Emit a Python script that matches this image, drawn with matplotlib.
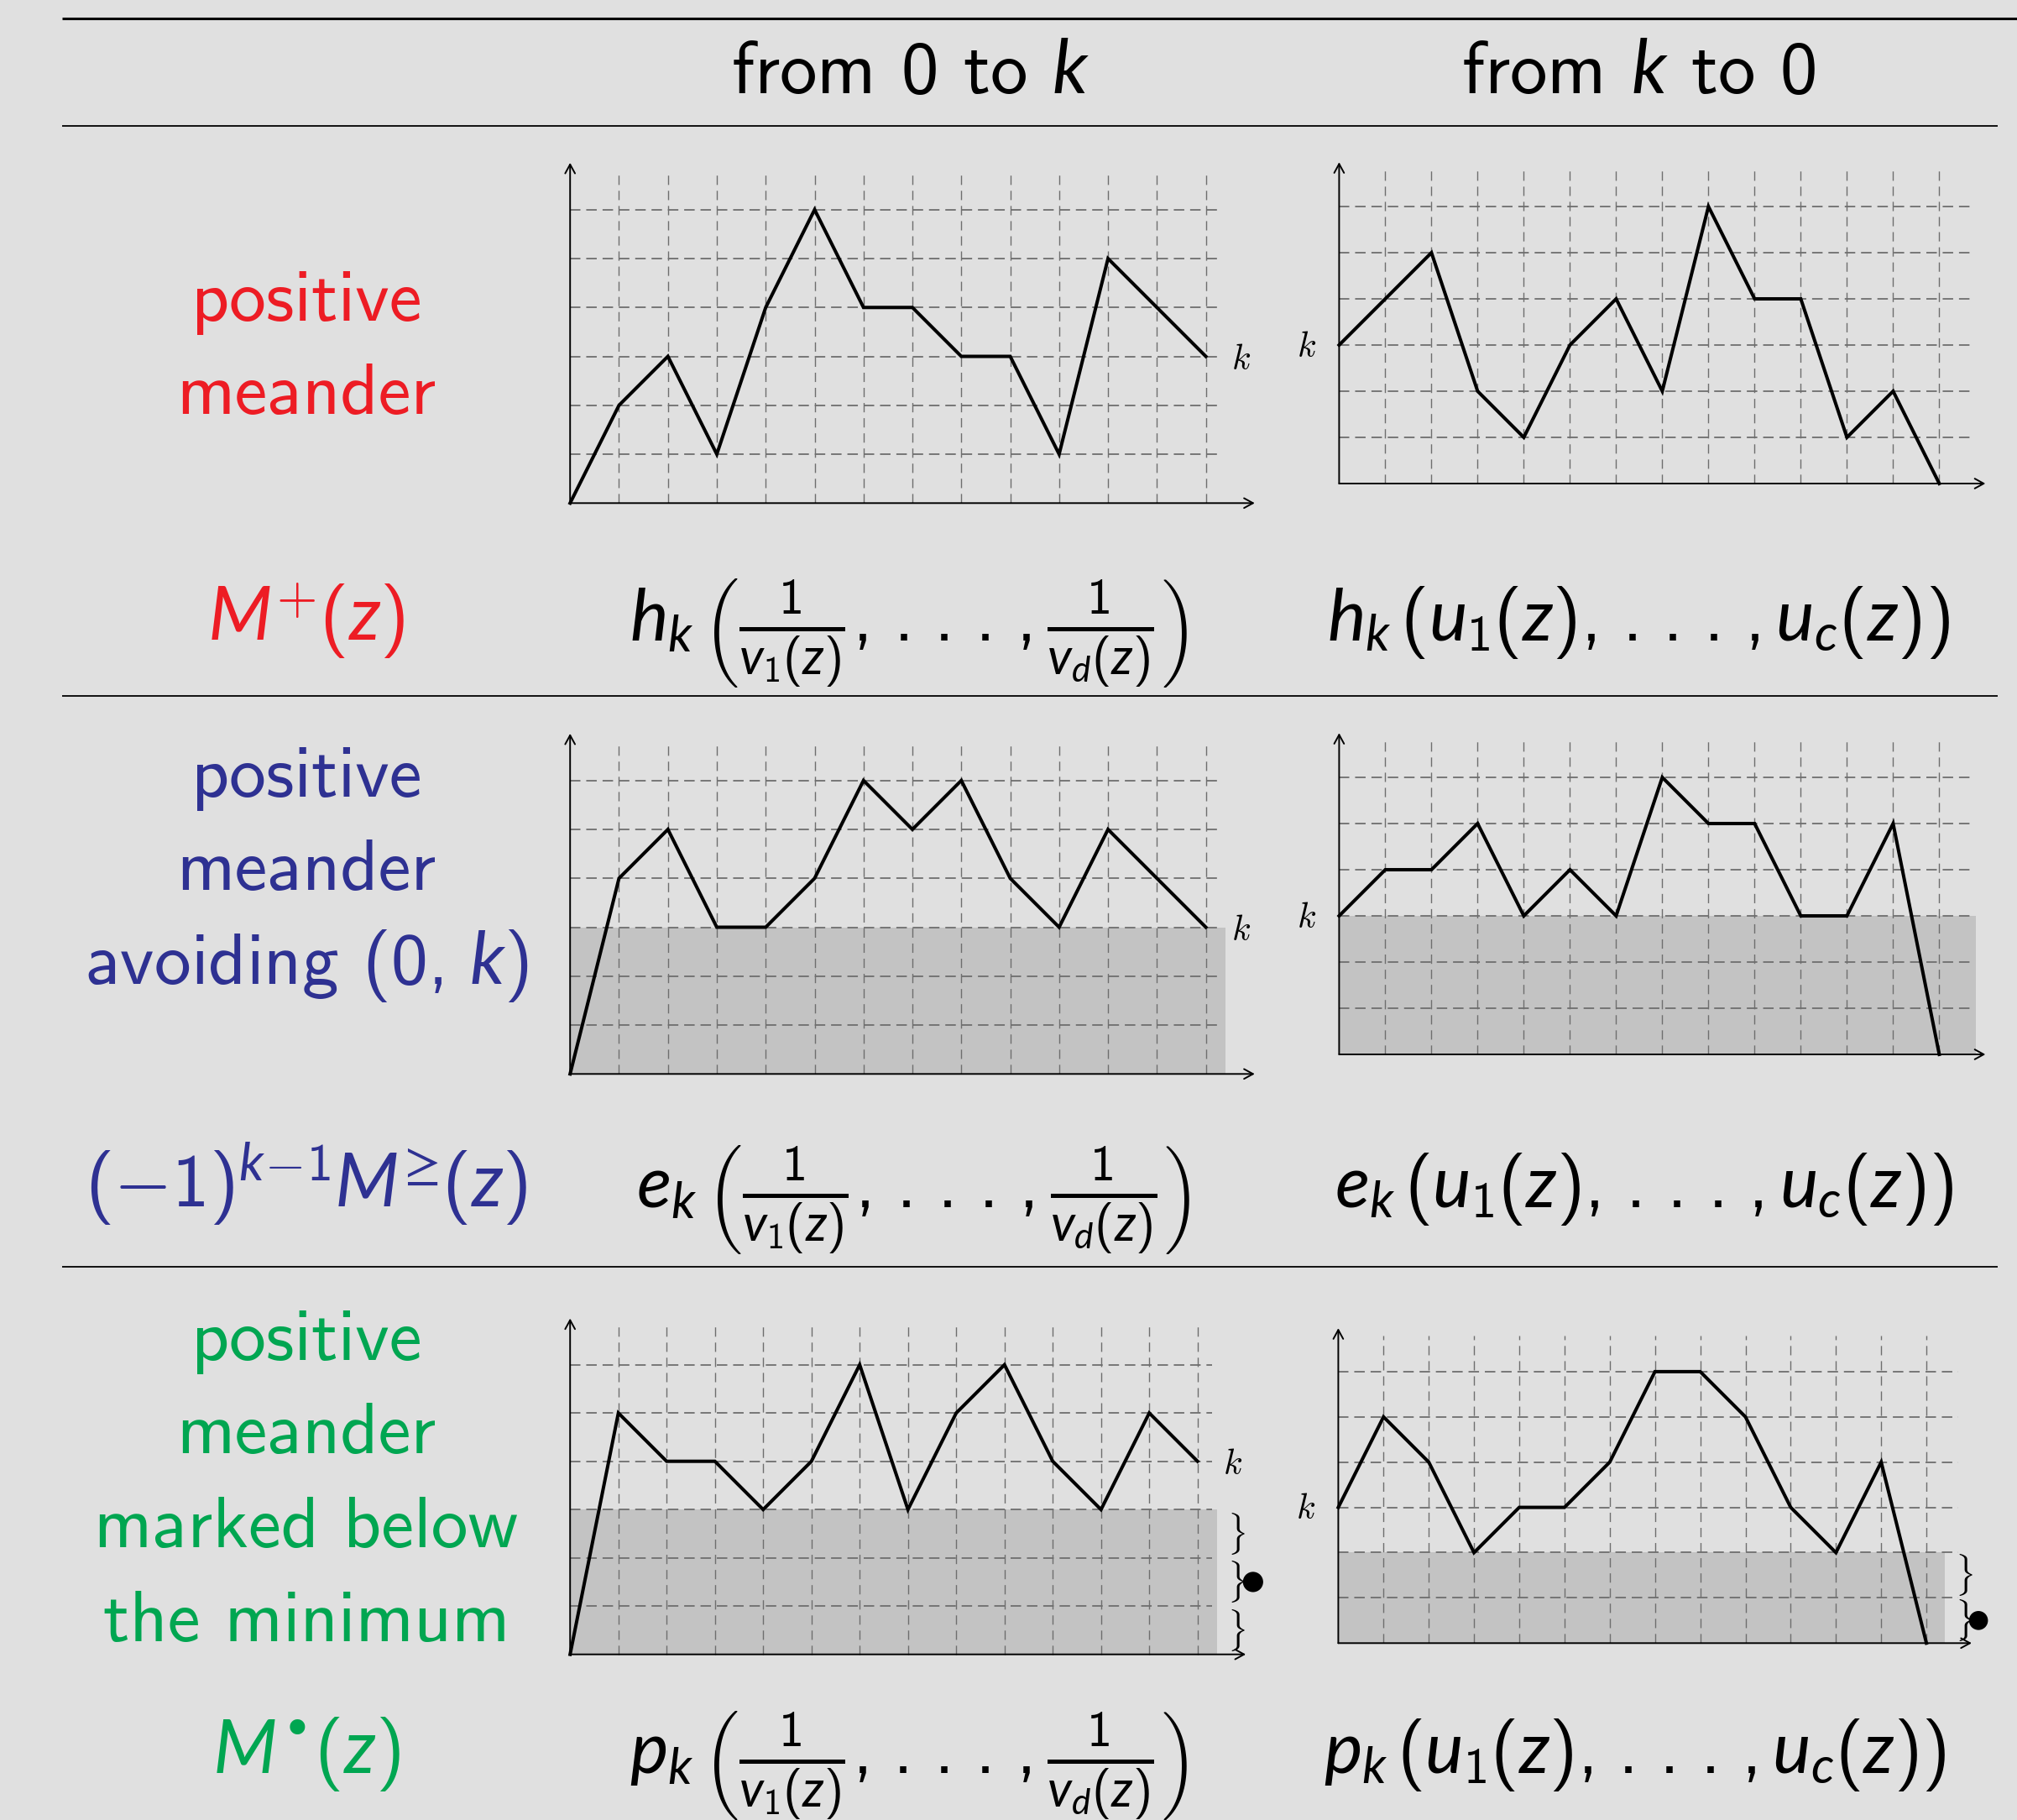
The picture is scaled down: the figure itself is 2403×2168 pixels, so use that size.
import matplotlib
matplotlib.use('Agg')
import matplotlib.pyplot as plt
from matplotlib.patches import Rectangle, Circle

plt.rcParams.update({
    'font.family': 'cmss10',
    'mathtext.fontset': 'custom',
    'mathtext.rm': 'cmss10',
    'mathtext.it': 'Lato:italic',
    'mathtext.bf': 'cmss10',
    'mathtext.sf': 'DejaVu Sans',
    'mathtext.fallback': 'cm',
    'axes.unicode_minus': False,
    'lines.scale_dashes': False,
})

# ---------------- data ----------------
steps = list(range(14))
pos_meander_0k = [0, 2, 3, 1, 4, 6, 4, 4, 3, 3, 1, 5, 4, 3]
pos_meander_k0 = [3, 4, 5, 2, 1, 3, 4, 2, 6, 4, 4, 1, 2, 0]
avoid_0k = [0, 4, 5, 3, 3, 4, 6, 5, 6, 4, 3, 5, 4, 3]
avoid_k0 = [3, 4, 4, 5, 3, 4, 3, 6, 5, 5, 3, 3, 5, 0]
marked_0k = [0, 5, 4, 4, 3, 4, 6, 3, 5, 6, 4, 3, 5, 4]
marked_k0 = [3, 5, 4, 2, 3, 3, 4, 6, 6, 5, 3, 2, 4, 0]

header_labels = ['from 0 to $k$', 'from $k$ to 0']
row_labels = [['positive', 'meander'],
              ['positive', 'meander', 'avoiding $(0,\\,k)$'],
              ['positive', 'meander', 'marked below', 'the minimum']]
row_series = ['$M^{+}(z)$',
              '$(\u22121)^{k\\!\u2212\\!1}M^{\u2265}(z)$',
              '$M^{\\mathsf{\u2022}}(z)$']
DOTS = r',\,.\,.\,.\,,'
row_left_formula = [r'$h_k\,\left(\frac{1}{v_1(z)}' + DOTS + r'\frac{1}{v_d(z)}\right)$',
                    r'$e_k\,\left(\frac{1}{v_1(z)}' + DOTS + r'\frac{1}{v_d(z)}\right)$',
                    r'$p_k\,\left(\frac{1}{v_1(z)}' + DOTS + r'\frac{1}{v_d(z)}\right)$']
row_right_formula = [r'$h_k\,(u_1(z)' + DOTS + r'u_c(z))$',
                     r'$e_k\,(u_1(z)' + DOTS + r'u_c(z))$',
                     r'$p_k\,(u_1(z)' + DOTS + r'u_c(z))$']
row_colors = ['#ed1c24', '#2e3192', '#00a651']

W, H = 2403, 2168
BG = '#e0e0e0'
SHADE = '#c3c3c3'
GRID = '#6e6e6e'

fig = plt.figure(figsize=(W / 100, H / 100), dpi=100, facecolor=BG)

# ---------------- text and rules ----------------
bg = fig.add_axes([0, 0, 1, 1])
bg.set_xlim(0, W)
bg.set_ylim(H, 0)
bg.axis('off')

bg.plot([74, W], [22, 22], color='k', lw=2.2, solid_capstyle='butt')
for yy in (150, 829, 1509):
    bg.plot([74, 2380], [yy, yy], color='k', lw=1.3, solid_capstyle='butt')

FS = 64
LFS = 63
MFS = 62
bg.text(1084, 111, header_labels[0], ha='center', va='baseline', fontsize=FS)
bg.text(1952, 111, header_labels[1], ha='center', va='baseline', fontsize=FS)

label_baselines = [[382, 493], [949, 1060, 1172], [1620, 1731, 1843, 1955]]
for lines, bls, col in zip(row_labels, label_baselines, row_colors):
    for txt, b in zip(lines, bls):
        bg.text(365, b, txt, ha='center', va='baseline', fontsize=LFS, color=col)

series_baselines = [763, 1438, 2112]
left_centers = [1083, 1088, 1082]
right_centers = [1952, 1959, 1948]
for i in range(3):
    bg.text(365, series_baselines[i], row_series[i], ha='center', va='baseline',
            fontsize=FS, color=row_colors[i])
    bg.text(left_centers[i], series_baselines[i], row_left_formula[i], ha='center',
            va='baseline', fontsize=MFS, color='k')
    bg.text(right_centers[i], series_baselines[i], row_right_formula[i], ha='center',
            va='baseline', fontsize=MFS, color='k')


# ---------------- panels ----------------
def panel(ox, oy, u, ys, hgrid_end, shade_w=None, shade_h=None, k_side='right',
          k_base=2.74, braces=0, dot_y=None):
    x0, x1, y0, y1 = -1.6, 15.0, -0.6, 7.4
    left = (ox + x0 * u) / W
    bottom = 1 - (oy - y0 * u) / H
    ax = fig.add_axes([left, bottom, (x1 - x0) * u / W, (y1 - y0) * u / H])
    ax.set_xlim(x0, x1)
    ax.set_ylim(y0, y1)
    ax.axis('off')
    ax.patch.set_alpha(0)
    if shade_w is not None:
        ax.add_patch(Rectangle((0, 0), shade_w, shade_h, facecolor=SHADE,
                               edgecolor='none', zorder=1))
    for gx in range(1, 14):
        ax.plot([gx, gx], [0, 6.8], color=GRID, lw=1.0, ls=(0, (8, 5)), zorder=2)
    for gy in range(1, 7):
        ax.plot([0, hgrid_end], [gy, gy], color=GRID, lw=1.3, ls=(0, (9, 5)), zorder=2)
    arrow = dict(arrowstyle='->,head_length=0.55,head_width=0.3', lw=1.4,
                 color='k', shrinkA=0, shrinkB=0, mutation_scale=14)
    ax.annotate('', xy=(14.0, 0), xytext=(0, 0), arrowprops=arrow, zorder=3)
    ax.annotate('', xy=(0, 6.96), xytext=(0, 0), arrowprops=arrow, zorder=3)
    ax.plot(steps, ys, color='k', lw=2.9, zorder=4, solid_joinstyle='miter')
    if k_side == 'right':
        ax.text(13.52, k_base, '$k$', ha='left', va='baseline', fontsize=30,
                math_fontfamily='cm')
    else:
        ax.text(-0.5, k_base, '$k$', ha='right', va='baseline', fontsize=30,
                math_fontfamily='cm')
    for b in range(braces):
        ax.text(13.62, b + 0.5, r'$\}$', ha='left', va='center', fontsize=30,
                math_fontfamily='cm', zorder=5)
    if dot_y is not None:
        ax.add_patch(Circle((14.15, dot_y), 0.21, facecolor='k', edgecolor='none',
                            clip_on=False, zorder=5))
    return ax


panel(679.2, 599.3, 58.26, pos_meander_0k, 13.3, k_side='right', k_base=2.74)
panel(1595.4, 576.0, 55.0, pos_meander_k0, 13.7, k_side='left', k_base=2.75)
panel(679.2, 1279.3, 58.26, avoid_0k, 13.3, shade_w=13.4, shade_h=3,
      k_side='right', k_base=2.74)
panel(1595.4, 1256.0, 55.0, avoid_k0, 13.7, shade_w=13.8, shade_h=3,
      k_side='left', k_base=2.75)
panel(679.2, 1970.7, 57.5, marked_0k, 13.3, shade_w=13.4, shade_h=3,
      k_side='right', k_base=3.74, braces=3, dot_y=1.5)
panel(1594.4, 1957.3, 53.9, marked_k0, 13.7, shade_w=13.4, shade_h=2,
      k_side='left', k_base=2.75, braces=2, dot_y=0.5)

fig.savefig('out.png', dpi=100, facecolor=BG)
